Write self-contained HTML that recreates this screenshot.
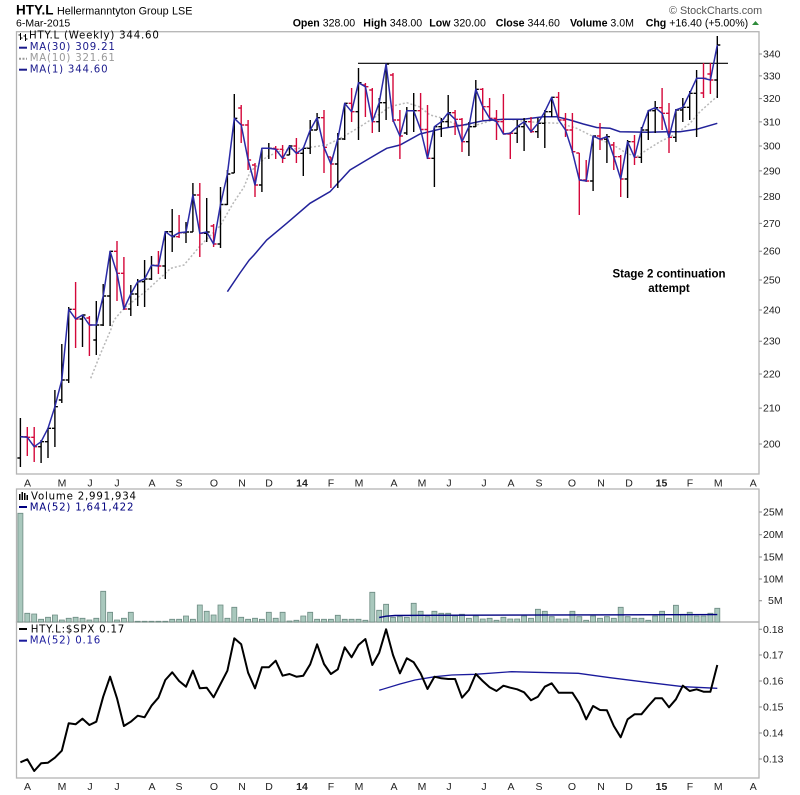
<!DOCTYPE html>
<html><head><meta charset="utf-8"><style>
html,body{margin:0;padding:0;background:#fff;}
svg{display:block;}
.ax{font-family:"Liberation Sans",Arial,sans-serif;font-size:10.5px;fill:#222;}
.lg{font-family:"DejaVu Sans","Liberation Sans",sans-serif;font-size:10.2px;letter-spacing:0.8px;}
.mo{font-family:"Liberation Sans",Arial,sans-serif;font-size:10.5px;fill:#222;text-anchor:middle;}
</style></head><body>
<svg width="800" height="795" viewBox="0 0 800 795" xmlns="http://www.w3.org/2000/svg">
<rect width="800" height="795" fill="#fff"/>
<!-- Header -->
<text x="16" y="14.5" font-family="Liberation Sans,Arial,sans-serif" font-size="13.5" font-weight="bold" fill="#000">HTY.L</text>
<text x="57" y="14.5" font-family="Liberation Sans,Arial,sans-serif" font-size="10.8" fill="#000">Hellermanntyton Group</text>
<text x="172" y="14.5" font-family="Liberation Sans,Arial,sans-serif" font-size="10.8" fill="#000">LSE</text>
<text x="16" y="26.5" font-family="Liberation Sans,Arial,sans-serif" font-size="10.5" fill="#000">6-Mar-2015</text>
<text x="669" y="14" font-family="Liberation Sans,Arial,sans-serif" font-size="10.8" fill="#555">© StockCharts.com</text>
<g font-family="Liberation Sans,Arial,sans-serif" font-size="10.6" fill="#000">
<text x="292.7" y="26.5"><tspan font-weight="bold">Open</tspan> 328.00</text>
<text x="363.3" y="26.5"><tspan font-weight="bold">High</tspan> 348.00</text>
<text x="429.3" y="26.5"><tspan font-weight="bold">Low</tspan> 320.00</text>
<text x="495.7" y="26.5"><tspan font-weight="bold">Close</tspan> 344.60</text>
<text x="570" y="26.5"><tspan font-weight="bold">Volume</tspan> 3.0M</text>
<text x="645.7" y="26.5"><tspan font-weight="bold">Chg</tspan> +16.40 (+5.00%)</text>
</g>
<polygon points="752,25 759,25 755.5,21" fill="#2e8b3a"/>

<!-- Panels -->
<g fill="none" stroke="#b4b4b4" stroke-width="1.3">
<rect x="16.5" y="31.7" width="742.5" height="442.3"/>
<rect x="16.5" y="489" width="742.5" height="133"/>
<rect x="16.5" y="622" width="742.5" height="156"/>
</g>

<!-- Price right axis -->
<g class="ax">
<text x="763" y="57.5">340</text><text x="763" y="79.3">330</text><text x="763" y="102">320</text>
<text x="763" y="125.3">310</text><text x="763" y="149.4">300</text><text x="763" y="174.3">290</text>
<text x="763" y="200">280</text><text x="763" y="226.8">270</text><text x="763" y="254.6">260</text>
<text x="763" y="283.4">250</text><text x="763" y="313.4">240</text><text x="763" y="344.7">230</text>
<text x="763" y="377.4">220</text><text x="763" y="411.5">210</text><text x="763" y="447.4">200</text>
</g>
<g stroke="#888" stroke-width="1">
<path d="M759 54H762M759 75.9H762M759 98.6H762M759 121.9H762M759 146H762M759 170.9H762M759 196.7H762M759 223.4H762M759 251.2H762M759 280H762M759 310H762M759 341.3H762M759 374H762M759 408.1H762M759 444H762"/>
<path d="M759 512H762M759 534.7H762M759 557H762M759 579H762M759 600.7H762"/>
<path d="M759 629.3H762M759 655H762M759 681H762M759 707H762M759 733H762M759 759H762"/>
</g>

<!-- Legend main -->
<g stroke="#000" stroke-width="1">
<path d="M20.5 33V40M18.5 35H20.5M20.5 38H22.5M25.5 34V41M23.5 36H25.5M25.5 39H27.5"/>
</g>
<text class="lg" x="29" y="38.5" fill="#000">HTY.L (Weekly) 344.60</text>
<line x1="19" y1="47.7" x2="27" y2="47.7" stroke="#1a1a8c" stroke-width="2"/>
<text class="lg" x="29.7" y="49.8" fill="#1a1a8c">MA(30) 309.21</text>
<line x1="19" y1="58.7" x2="27" y2="58.7" stroke="#999" stroke-width="2" stroke-dasharray="2,1.5"/>
<text class="lg" x="29.7" y="61" fill="#999">MA(10) 321.61</text>
<line x1="19" y1="69.7" x2="27" y2="69.7" stroke="#1a1a8c" stroke-width="2"/>
<text class="lg" x="29.7" y="72.3" fill="#1a1a8c">MA(1) 344.60</text>

<!-- Resistance line -->
<line x1="358" y1="63.3" x2="728" y2="63.3" stroke="#000" stroke-width="1.2"/>

<!-- MA10 dotted -->
<polyline fill="none" stroke="#b8b8b8" stroke-width="1.5" stroke-dasharray="2,2" points="90.7,378.3 100.7,353.3 110.7,330 114,320 124,308.3 147.3,290 170.7,268.3 184,265 200,246 220,226 233.3,203 244,187 250,172 266.7,156.7 283.3,150 310,147.3 326.7,145 343.3,136.7 360,126.7 376.7,116 390,106.7 406.7,102.7 420,107 430,115 443.3,118.3 456.7,125 476.7,125 493.3,120 510,119.3 526.7,121.7 543.3,122.7 560,123.3 576.7,128.3 593.3,136.7 613.3,145 626.7,153.3 636.7,156.7 646.7,150 660,141.7 676.7,133.3 690,123.3 700,111.7 716.7,96.7"/>

<!-- MA30 -->
<polyline fill="none" stroke="#22229a" stroke-width="1.5" points="227.4,291.7 240,273 249.3,260 254,255 266.7,240 286.7,223.3 310,203.3 330,191.7 350,170 366.7,160 386.7,148.3 400,145 420,134 443.3,128.3 463.3,125 483.3,120.7 503.3,119.3 523.3,119.3 543.3,116.7 556.7,116.7 570,120 583.3,124 596.7,127.5 610,128.3 620,131.7 646.7,132.3 666.7,131.7 680,131.7 696.7,129.3 717.3,123.3"/>

<!-- Price bars -->
<path fill="none" stroke="#000" stroke-width="1.4" d="M20.4 418V467M17.4 458H20.4M20.4 436.7H23.4M41.1 440V463M38.1 446.7H41.1M41.1 441.7H44.1M48 428V458M45 441.7H48M48 428.3H51M54.9 390V447M51.9 428.3H54.9M54.9 406.7H57.9M61.8 344V403M58.8 400H61.8M61.8 380H64.8M68.7 307V383M65.7 380H68.7M68.7 309.3H71.7M82.5 315V347M79.5 319H82.5M82.5 315H85.5M96.3 301V355M93.3 340H96.3M96.3 325H99.3M103.2 284V326M100.2 325H103.2M103.2 296H106.2M110.1 251V326M107.1 296H110.1M110.1 251.3H113.1M130.8 285V316M127.8 309H130.8M130.8 294H133.8M137.7 279V306M134.7 294H137.7M137.7 281.7H140.7M144.6 260V307M141.6 281.7H144.6M144.6 279H147.6M151.5 256V280M148.5 279H151.5M151.5 265.3H154.5M165.3 231V279M162.3 266H165.3M165.3 231.7H168.3M172.2 209V252M169.2 231.7H172.2M172.2 236.7H175.2M186 222V243M183 232.7H186M186 232H189M192.9 183V232M189.9 232H192.9M192.9 195H195.9M206.7 198V242M203.7 233.3H206.7M206.7 232H209.7M220.5 187V248M217.5 244H220.5M220.5 204.5H223.5M227.4 170V205M224.4 204.5H227.4M227.4 174H230.4M234.3 94V173M231.3 173H234.3M234.3 118.3H237.3M261.9 148V192M258.9 185H261.9M261.9 148.3H264.9M268.8 143V159M265.8 148.3H268.8M268.8 148.3H271.8M289.5 145V155M286.5 155H289.5M289.5 146H292.5M303.3 148V176M300.3 153.3H303.3M303.3 148.3H306.3M310.2 120V154M307.2 148.3H310.2M310.2 130H313.2M317.1 113V130M314.1 130H317.1M317.1 117.7H320.1M337.8 133V188M334.8 164H337.8M337.8 139H340.8M344.7 103V140M341.7 139H344.7M344.7 103.3H347.7M358.5 68V140M355.5 111.7H358.5M358.5 82.7H361.5M379.2 98V132M376.2 121.7H379.2M379.2 102.7H382.2M386.1 64V120M383.1 102.7H386.1M386.1 64H389.1M406.8 107V135M403.8 133H406.8M406.8 110.7H409.8M413.7 93V132M410.7 110.7H413.7M413.7 110.7H416.7M434.4 127V187M431.4 158.3H434.4M434.4 126.7H437.4M441.3 118V137M438.3 126.7H441.3M441.3 121.7H444.3M448.2 95V127M445.2 121.7H448.2M448.2 112.7H451.2M468.9 122V156M465.9 141.7H468.9M468.9 126.7H471.9M475.8 80V127M472.8 126.7H475.8M475.8 89.3H478.8M517.2 120V143M514.2 133.3H517.2M517.2 126.7H520.2M524.1 118V151M521.1 126.7H524.1M524.1 121.7H527.1M537.9 118V138M534.9 131.7H537.9M537.9 123.3H540.9M544.8 110V148M541.8 123.3H544.8M544.8 111.7H547.8M551.7 97V117M548.7 111.7H551.7M551.7 97.3H554.7M593.1 136V191M590.1 181H593.1M593.1 136H596.1M606.9 134V163M603.9 139.2H606.9M606.9 136.7H609.9M627.6 140V198M624.6 179H627.6M627.6 141.7H630.6M641.4 127V163M638.4 157.3H641.4M641.4 130H644.4M648.3 110V140M645.3 130H648.3M648.3 110.7H651.3M655.2 101V133M652.2 110.7H655.2M655.2 107.7H658.2M675.9 109V142M672.9 137.3H675.9M675.9 110H678.9M682.8 98V122M679.8 110H682.8M682.8 107.3H685.8M689.7 91V120M686.7 107.3H689.7M689.7 93.3H692.7M696.6 70V137M693.6 93.3H696.6M696.6 78.3H699.6M717.3 36V98M714.3 80H717.3M717.3 45H720.3"/>
<path fill="none" stroke="#d4083a" stroke-width="1.4" d="M27.3 427V456M24.3 436.7H27.3M27.3 437.3H30.3M34.2 427V462M31.2 437.3H34.2M34.2 446.7H37.2M75.6 282V348M72.6 309.3H75.6M75.6 319H78.6M89.4 316V356M86.4 318H89.4M89.4 325H92.4M117 241V301M114 251.3H117M117 273.3H120M123.9 257V310M120.9 273.3H123.9M123.9 309H126.9M158.4 251V274M155.4 265.3H158.4M158.4 266H161.4M179.1 215V238M176.1 236.7H179.1M179.1 232.7H182.1M199.8 183V257M196.8 195H199.8M199.8 233.3H202.8M213.6 224V247M210.6 226H213.6M213.6 244H216.6M241.2 105V143M238.2 108H241.2M241.2 125H244.2M248.1 120V170M245.1 125H248.1M248.1 160H251.1M255 163V197M252 165H255M255 185H258M275.7 146V159M272.7 148.3H275.7M275.7 149.3H278.7M282.6 145V163M279.6 149.3H282.6M282.6 158.3H285.6M296.4 138V163M293.4 146H296.4M296.4 153.3H299.4M324 110V173M321 117.7H324M324 147.3H327M330.9 157V188M327.9 157H330.9M330.9 164H333.9M351.6 88V122M348.6 103.3H351.6M351.6 111.7H354.6M365.4 83V117M362.4 85H365.4M365.4 86.7H368.4M372.3 88V133M369.3 90H372.3M372.3 121.7H375.3M393 73V122M390 75H393M393 120H396M399.9 110V159M396.9 120H399.9M399.9 136H402.9M420.6 93V130M417.6 110.7H420.6M420.6 129.5H423.6M427.5 105V159M424.5 129.5H427.5M427.5 158.3H430.5M455.1 110V135M452.1 112.7H455.1M455.1 119.3H458.1M462 118V152M459 119.3H462M462 141.7H465M482.7 88V120M479.7 89.3H482.7M482.7 106.7H485.7M489.6 98V120M486.6 106.7H489.6M489.6 118.3H492.6M496.5 110V140M493.5 118.3H496.5M496.5 121.7H499.5M503.4 94V134M500.4 121.7H503.4M503.4 134H506.4M510.3 132V159M507.3 134H510.3M510.3 133.3H513.3M531 117V133M528 121.7H531M531 131.7H534M558.6 92V120M555.6 97.3H558.6M558.6 120H561.6M565.5 113V137M562.5 120H565.5M565.5 130H568.5M572.4 113V153M569.4 130H572.4M572.4 151.7H575.4M579.3 153V215M576.3 153H579.3M579.3 180H582.3M586.2 160V182M583.2 180H586.2M586.2 181H589.2M600 123V150M597 136H600M600 139.2H603M613.8 142V170M610.8 145H613.8M613.8 156.7H616.8M620.7 155V197M617.7 156.7H620.7M620.7 179H623.7M634.5 135V165M631.5 141.7H634.5M634.5 157.3H637.5M662.1 88V130M659.1 107.7H662.1M662.1 113.3H665.1M669 103V153M666 113.3H669M669 137.3H672M703.5 63V98M700.5 93H703.5M703.5 78.3H706.5M710.4 63V94M707.4 74H710.4M710.4 80H713.4"/>

<!-- Close line MA(1) -->
<polyline fill="none" stroke="#2a2aa6" stroke-width="1.5" stroke-linejoin="round" points="20.4,436.7 27.3,437.3 34.2,446.7 41.1,441.7 48,428.3 54.9,406.7 61.8,380 68.7,309.3 75.6,319 82.5,315 89.4,325 96.3,325 103.2,296 110.1,251.3 117,273.3 123.9,309 130.8,294 137.7,281.7 144.6,279 151.5,265.3 158.4,266 165.3,231.7 172.2,236.7 179.1,232.7 186,232 192.9,195 199.8,233.3 206.7,232 213.6,244 220.5,204.5 227.4,174 234.3,118.3 241.2,125 248.1,160 255,185 261.9,148.3 268.8,148.3 275.7,149.3 282.6,158.3 289.5,146 296.4,153.3 303.3,148.3 310.2,130 317.1,117.7 324,147.3 330.9,164 337.8,139 344.7,103.3 351.6,111.7 358.5,82.7 365.4,86.7 372.3,121.7 379.2,102.7 386.1,64 393,120 399.9,136 406.8,110.7 413.7,110.7 420.6,129.5 427.5,158.3 434.4,126.7 441.3,121.7 448.2,112.7 455.1,119.3 462,141.7 468.9,126.7 475.8,89.3 482.7,106.7 489.6,118.3 496.5,121.7 503.4,134 510.3,133.3 517.2,126.7 524.1,121.7 531,131.7 537.9,123.3 544.8,111.7 551.7,97.3 558.6,120 565.5,130 572.4,151.7 579.3,180 586.2,181 593.1,136 600,139.2 606.9,136.7 613.8,156.7 620.7,179 627.6,141.7 634.5,157.3 641.4,130 648.3,110.7 655.2,107.7 662.1,113.3 669,137.3 675.9,110 682.8,107.3 689.7,93.3 696.6,78.3 703.5,78.3 710.4,80 717.3,45"/>

<!-- Annotation -->
<text x="669" y="277.5" text-anchor="middle" font-family="Liberation Sans,Arial,sans-serif" font-size="11.5" font-weight="bold" fill="#000">Stage 2 continuation</text>
<text x="669" y="292" text-anchor="middle" font-family="Liberation Sans,Arial,sans-serif" font-size="11.5" font-weight="bold" fill="#000">attempt</text>

<!-- Top date axis -->
<g class="mo">
<text x="27.5" y="486.5">A</text><text x="62" y="486.5">M</text><text x="90" y="486.5">J</text><text x="117" y="486.5">J</text>
<text x="152" y="486.5">A</text><text x="179" y="486.5">S</text><text x="214" y="486.5">O</text><text x="242" y="486.5">N</text>
<text x="269" y="486.5">D</text><text x="302" y="486.5" font-weight="bold">14</text><text x="331" y="486.5">F</text><text x="359" y="486.5">M</text>
<text x="394" y="486.5">A</text><text x="422" y="486.5">M</text><text x="449" y="486.5">J</text><text x="484" y="486.5">J</text>
<text x="511" y="486.5">A</text><text x="539" y="486.5">S</text><text x="572" y="486.5">O</text><text x="601" y="486.5">N</text>
<text x="629" y="486.5">D</text><text x="661.5" y="486.5" font-weight="bold">15</text><text x="690" y="486.5">F</text><text x="718.3" y="486.5">M</text>
<text x="753.3" y="486.5">A</text>
</g>

<!-- Volume panel -->
<g class="ax">
<text x="763" y="515.5">25M</text><text x="763" y="538.2">20M</text><text x="763" y="560.5">15M</text>
<text x="763" y="582.5">10M</text><text x="768" y="604.2">5M</text>
</g>
<g fill="#000"><rect x="19" y="494" width="1.5" height="6"/><rect x="21.5" y="492" width="1.5" height="8"/><rect x="24" y="493" width="1.5" height="7"/><rect x="26.5" y="495" width="1.5" height="5"/></g>
<text class="lg" x="31" y="499.5" fill="#000">Volume 2,991,934</text>
<line x1="19" y1="507" x2="27" y2="507" stroke="#00007f" stroke-width="2"/>
<text class="lg" x="29.7" y="510.5" fill="#00007f">MA(52) 1,641,422</text>
<path fill="#a9c8bd" stroke="#6e8c83" stroke-width="0.8" d="M17.9 622V513.3h5V622zM24.8 622V613.3h5V622zM31.7 622V614h5V622zM38.6 622V619.3h5V622zM45.5 622V617.3h5V622zM52.4 622V615h5V622zM59.3 622V620h5V622zM66.2 622V618.3h5V622zM73.1 622V617.3h5V622zM80 622V618.3h5V622zM86.9 622V620h5V622zM93.8 622V618.3h5V622zM100.7 622V591.3h5V622zM107.6 622V612.3h5V622zM114.5 622V620h5V622zM121.4 622V618.3h5V622zM128.3 622V612.3h5V622zM135.2 622V621.3h5V622zM142.1 622V621.3h5V622zM149 622V621.3h5V622zM155.9 622V621.3h5V622zM162.8 622V621.3h5V622zM169.7 622V619.3h5V622zM176.6 622V619.3h5V622zM183.5 622V616h5V622zM190.4 622V619.3h5V622zM197.3 622V605h5V622zM204.2 622V611.3h5V622zM211.1 622V615h5V622zM218 622V605h5V622zM224.9 622V618.3h5V622zM231.8 622V607.3h5V622zM238.7 622V617.3h5V622zM245.6 622V619.3h5V622zM252.5 622V618.3h5V622zM259.4 622V619.3h5V622zM266.3 622V612.3h5V622zM273.2 622V618.3h5V622zM280.1 622V612.3h5V622zM287 622V621h5V622zM293.9 622V620.3h5V622zM300.8 622V616h5V622zM307.7 622V612.3h5V622zM314.6 622V619.3h5V622zM321.5 622V619.3h5V622zM328.4 622V619.3h5V622zM335.3 622V615.3h5V622zM342.2 622V619.3h5V622zM349.1 622V619.3h5V622zM356 622V619.3h5V622zM362.9 622V620.3h5V622zM369.8 622V592.3h5V622zM376.7 622V610.3h5V622zM383.6 622V604.3h5V622zM390.5 622V617.3h5V622zM397.4 622V616.7h5V622zM404.3 622V617.3h5V622zM411.2 622V603.3h5V622zM418.1 622V611.3h5V622zM425 622V616.7h5V622zM431.9 622V611.3h5V622zM438.8 622V613.3h5V622zM445.7 622V613.3h5V622zM452.6 622V616h5V622zM459.5 622V614.3h5V622zM466.4 622V618.3h5V622zM473.3 622V616h5V622zM480.2 622V619h5V622zM487.1 622V618.3h5V622zM494 622V620.3h5V622zM500.9 622V617.3h5V622zM507.8 622V619h5V622zM514.7 622V619h5V622zM521.6 622V616h5V622zM528.5 622V618.3h5V622zM535.4 622V609.3h5V622zM542.3 622V611.3h5V622zM549.2 622V616.7h5V622zM556.1 622V619h5V622zM563 622V619h5V622zM569.9 622V611.3h5V622zM576.8 622V616.7h5V622zM583.7 622V620.3h5V622zM590.6 622V616h5V622zM597.5 622V618.3h5V622zM604.4 622V616.7h5V622zM611.3 622V618.3h5V622zM618.2 622V607.3h5V622zM625.1 622V616.7h5V622zM632 622V618.3h5V622zM638.9 622V618.3h5V622zM645.8 622V620.3h5V622zM652.7 622V616h5V622zM659.6 622V611.3h5V622zM666.5 622V618.3h5V622zM673.4 622V605.3h5V622zM680.3 622V614.3h5V622zM687.2 622V612.3h5V622zM694.1 622V616h5V622zM701 622V616h5V622zM707.9 622V613.3h5V622zM714.8 622V608.3h5V622z"/>
<polyline fill="none" stroke="#00007f" stroke-width="1.4" points="379.2,617.5 386,616.2 395,615.5 420,615.3 717.3,614.6"/>

<!-- Ratio panel -->
<g class="ax">
<text x="763" y="632.8">0.18</text><text x="763" y="658.5">0.17</text><text x="763" y="684.5">0.16</text>
<text x="763" y="710.5">0.15</text><text x="763" y="736.5">0.14</text><text x="763" y="762.5">0.13</text>
</g>
<line x1="19" y1="629" x2="27" y2="629" stroke="#000" stroke-width="2"/>
<text class="lg" x="30.7" y="632.5" fill="#000">HTY.L:$SPX 0.17</text>
<line x1="19" y1="640.7" x2="27" y2="640.7" stroke="#1a1a9c" stroke-width="2"/>
<text class="lg" x="29.7" y="643.5" fill="#1a1a9c">MA(52) 0.16</text>
<polyline fill="none" stroke="#1a1a9c" stroke-width="1.3" points="379.2,690.3 400,684 415,680 435,676.7 451.7,675 475,674.3 511.7,671.7 535,672.3 578.3,673.3 610,677.7 650,682.7 683.3,686.7 717.3,688.3"/>
<polyline fill="none" stroke="#000" stroke-width="2" stroke-linejoin="round" points="20.4,762.3 27.3,759.3 34.2,771 41.1,763.3 48,762.7 54.9,757.7 61.8,750.7 68.7,723.3 75.6,724.3 82.5,718.7 89.4,725 96.3,721.7 103.2,696.7 110.1,676.7 117,698.3 123.9,726 130.8,721.7 137.7,715.7 144.6,717.3 151.5,705.7 158.4,697.7 165.3,680 172.2,672.3 179.1,681 186,686.7 192.9,670.7 199.8,688.3 206.7,687.7 213.6,697.3 220.5,684 227.4,670.7 234.3,638.3 241.2,644.3 248.1,672.7 255,688.3 261.9,667.3 268.8,667.3 275.7,660.7 282.6,675.7 289.5,674 296.4,676.7 303.3,675.7 310.2,664.3 317.1,644.3 324,664 330.9,674 337.8,669.3 344.7,647.3 351.6,657.3 358.5,645 365.4,639 372.3,665 379.2,652.7 386.1,629.3 393,655 399.9,673.3 406.8,658.3 413.7,662.3 420.6,673.3 427.5,689 434.4,676.7 441.3,678.3 448.2,679 455.1,679 462,697.7 468.9,690 475.8,674 482.7,681 489.6,687.3 496.5,691 503.4,685.7 510.3,687.7 517.2,689.3 524.1,692.3 531,700.3 537.9,696.7 544.8,686.7 551.7,683.3 558.6,692.7 565.5,692.7 572.4,692.7 579.3,703.3 586.2,719.3 593.1,706 600,710 606.9,710.3 613.8,726 620.7,737.3 627.6,719.3 634.5,714.3 641.4,714.3 648.3,706 655.2,698.3 662.1,698.3 669,707.3 675.9,699.3 682.8,685.7 689.7,691 696.6,689.3 703.5,691.7 710.4,691.7 717.3,665"/>

<!-- Bottom date axis -->
<g class="mo">
<text x="27.5" y="790">A</text><text x="62" y="790">M</text><text x="90" y="790">J</text><text x="117" y="790">J</text>
<text x="152" y="790">A</text><text x="179" y="790">S</text><text x="214" y="790">O</text><text x="242" y="790">N</text>
<text x="269" y="790">D</text><text x="302" y="790" font-weight="bold">14</text><text x="331" y="790">F</text><text x="359" y="790">M</text>
<text x="394" y="790">A</text><text x="422" y="790">M</text><text x="449" y="790">J</text><text x="484" y="790">J</text>
<text x="511" y="790">A</text><text x="539" y="790">S</text><text x="572" y="790">O</text><text x="601" y="790">N</text>
<text x="629" y="790">D</text><text x="661.5" y="790" font-weight="bold">15</text><text x="690" y="790">F</text><text x="718.3" y="790">M</text>
<text x="753.3" y="790">A</text>
</g>
</svg>
</body></html>
